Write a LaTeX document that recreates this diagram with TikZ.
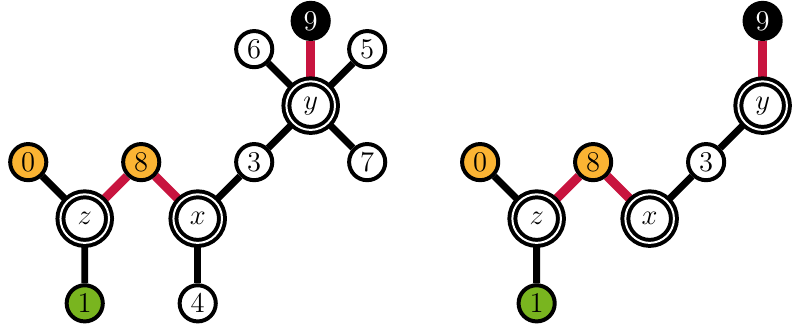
\documentclass[tikz,border=0pt]{standalone}
\usetikzlibrary{backgrounds}
\definecolor{gold}{HTML}{FBB433}
\definecolor{leaf}{HTML}{79B51F}
\definecolor{crimson}{HTML}{C8143F}
\begin{document}
\begin{tikzpicture}[
            vert/.style={circle, draw, line width=2pt, fill=white, minimum size=0.64cm, inner sep=0pt, font=\Large},
            hub/.style={circle, draw, line width=2pt, double=white, double distance=1pt, fill=white, minimum size=0.86cm, inner sep=0pt, font=\Large},
            link/.style={line width=3.5pt},
            hot/.style={line width=4.5pt, crimson}]
            \useasboundingbox (-0.5, -3.0) rectangle (13.52, 2.87);
            % left tree
            \node[vert, fill=gold] (l0) at (0, 0) {0};
            \node[hub] (lz) at (1, -1) {$z$};
            \node[vert, fill=leaf] (l1) at (1, -2.5) {1};
            \node[vert, fill=gold] (l8) at (2, 0) {8};
            \node[hub] (lx) at (3, -1) {$x$};
            \node[vert] (l4) at (3, -2.5) {4};
            \node[vert] (l3) at (4, 0) {3};
            \node[hub] (ly) at (5, 1) {$y$};
            \node[vert] (l6) at (4, 2) {6};
            \node[vert, fill=black, text=white] (l9) at (5, 2.5) {9};
            \node[vert] (l5) at (6, 2) {5};
            \node[vert] (l7) at (6, 0) {7};
            % right tree
            \node[vert, fill=gold] (r0) at (8, 0) {0};
            \node[hub] (rz) at (9, -1) {$z$};
            \node[vert, fill=leaf] (r1) at (9, -2.5) {1};
            \node[vert, fill=gold] (r8) at (10, 0) {8};
            \node[hub] (rx) at (11, -1) {$x$};
            \node[vert] (r3) at (12, 0) {3};
            \node[hub] (ry) at (13, 1) {$y$};
            \node[vert, fill=black, text=white] (r9) at (13, 2.5) {9};
            \begin{scope}[on background layer]
                \draw[link] (l0) -- (lz) -- (l1);
                \draw[link] (lx) -- (l4);
                \draw[link] (lx) -- (l3) -- (ly);
                \draw[link] (l6) -- (ly) -- (l7);
                \draw[link] (l5) -- (ly);
                \draw[hot] (lz) -- (l8) -- (lx);
                \draw[hot] (ly) -- (l9);
                \draw[link] (r0) -- (rz) -- (r1);
                \draw[link] (rx) -- (r3) -- (ry);
                \draw[hot] (rz) -- (r8) -- (rx);
                \draw[hot] (ry) -- (r9);
            \end{scope}
        \end{tikzpicture}
\end{document}
